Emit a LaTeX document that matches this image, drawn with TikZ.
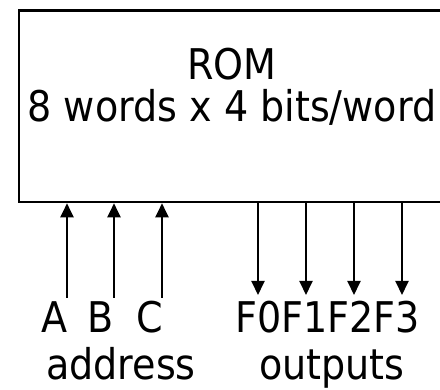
\documentclass[tikz,border=0pt]{standalone}
\usepackage{fontspec}
\setmainfont[FakeStretch=0.9]{DejaVu Sans}
\usetikzlibrary{arrows.meta}
\begin{document}
\begin{tikzpicture}[x=1pt,y=1pt,
  lbl/.style={font=\fontsize{42.3}{42.3}\selectfont, inner sep=0pt, anchor=base},
  sig/.style={line width=2pt, -{Triangle[length=14pt,width=13pt]}}]
\useasboundingbox (0,0) rectangle (440,390);
\node[draw, line width=2.6pt, minimum width=427pt, minimum height=191.3pt, inner sep=0pt] (rom) at (232.3,283.65) {};
\node[lbl] (title) at (232,310) {ROM};
\node[lbl] (spec) at (232,268) {8 words x 4 bits/word};
% inputs
\foreach \n/\x in {a/67,b/114,c/162}{
  \coordinate (\n) at (\x,92);
  \draw[sig] (\n) -- (\n |- rom.south);
}
% outputs
\foreach \n/\x in {f0/258,f1/306,f2/354,f3/402}{
  \coordinate (\n) at (\x,95);
  \draw[sig] (\n |- rom.south) -- (\n);
}
\node[lbl] (la) at (54.5,57.5) {A};
\node[lbl] (lb) at (101,57.5) {B};
\node[lbl] (lc) at (149.5,57.5) {C};
\node[lbl] (lf) at (327.5,57.5) {F0F1F2F3};
\node[lbl] (addr) at (121,10.5) {address};
\node[lbl] (outs) at (332,10.5) {outputs};
\end{tikzpicture}
\end{document}
